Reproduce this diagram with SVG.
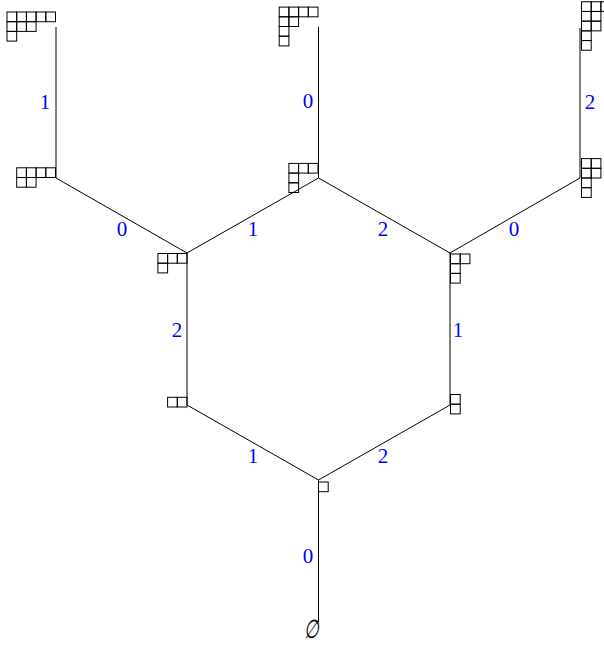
<svg xmlns="http://www.w3.org/2000/svg" xmlns:xlink="http://www.w3.org/1999/xlink" width="604" height="645" viewBox="0 0 604 645">
<style>
.e{stroke:#000;stroke-width:1;fill:none}
.b{stroke:#000;stroke-width:1;fill:none}
.l{font-family:"Liberation Serif","DejaVu Serif",serif;font-size:21px;fill:#0000ff;text-anchor:middle}
.n{font-family:"DejaVu Serif","Liberation Serif",serif;font-size:26px;font-style:italic;fill:#000;text-anchor:middle}
</style>
<defs>
<rect id="c" class="b" width="9.7" height="9.7"/>
</defs>
<g id="connectors">
<path class="e" d="M56 27V178L187 253L318.5 178V27M318.5 178L450 253L580 178V28M187 253V405L318.5 480L450 405V253M318.5 480V622"/>
</g>
<g id="labels">
<text class="l" x="45" y="109">1</text>
<text class="l" x="308" y="108">0</text>
<text class="l" x="590" y="109">2</text>
<text class="l" x="122" y="236">0</text>
<text class="l" x="253" y="236">1</text>
<text class="l" x="383" y="236">2</text>
<text class="l" x="514" y="236">0</text>
<text class="l" x="177" y="337">2</text>
<text class="l" x="458" y="337">1</text>
<text class="l" x="253" y="463">1</text>
<text class="l" x="383" y="463">2</text>
<text class="l" x="308" y="563">0</text>
</g>
<g id="n531">
<use xlink:href="#c" x="7" y="12"/><use xlink:href="#c" x="16.7" y="12"/><use xlink:href="#c" x="26.4" y="12"/><use xlink:href="#c" x="36.1" y="12"/><use xlink:href="#c" x="45.8" y="12"/>
<use xlink:href="#c" x="7" y="21.7"/><use xlink:href="#c" x="16.7" y="21.7"/><use xlink:href="#c" x="26.4" y="21.7"/>
<use xlink:href="#c" x="7" y="31.4"/>
</g>
<g id="n4211">
<use xlink:href="#c" x="279.2" y="7.1"/><use xlink:href="#c" x="288.9" y="7.1"/><use xlink:href="#c" x="298.6" y="7.1"/><use xlink:href="#c" x="308.3" y="7.1"/>
<use xlink:href="#c" x="279.2" y="16.8"/><use xlink:href="#c" x="288.9" y="16.8"/>
<use xlink:href="#c" x="279.2" y="26.5"/>
<use xlink:href="#c" x="279.2" y="36.2"/>
</g>
<g id="n32211">
<use xlink:href="#c" x="581.5" y="1.75"/><use xlink:href="#c" x="591.2" y="1.75"/><use xlink:href="#c" x="600.9" y="1.75"/>
<use xlink:href="#c" x="581.5" y="11.45"/><use xlink:href="#c" x="591.2" y="11.45"/>
<use xlink:href="#c" x="581.5" y="21.15"/><use xlink:href="#c" x="591.2" y="21.15"/>
<use xlink:href="#c" x="581.5" y="30.85"/>
<use xlink:href="#c" x="581.5" y="40.55"/>
</g>
<g id="n42">
<use xlink:href="#c" x="16.7" y="167.8"/><use xlink:href="#c" x="26.4" y="167.8"/><use xlink:href="#c" x="36.1" y="167.8"/><use xlink:href="#c" x="45.8" y="167.8"/>
<use xlink:href="#c" x="16.7" y="177.5"/><use xlink:href="#c" x="26.4" y="177.5"/>
</g>
<g id="n311">
<use xlink:href="#c" x="288.9" y="163.4"/><use xlink:href="#c" x="298.6" y="163.4"/><use xlink:href="#c" x="308.3" y="163.4"/>
<use xlink:href="#c" x="288.9" y="173.1"/>
<use xlink:href="#c" x="288.9" y="182.8"/>
</g>
<g id="n2211">
<use xlink:href="#c" x="581.5" y="158.6"/><use xlink:href="#c" x="591.2" y="158.6"/>
<use xlink:href="#c" x="581.5" y="168.3"/><use xlink:href="#c" x="591.2" y="168.3"/>
<use xlink:href="#c" x="581.5" y="178"/>
<use xlink:href="#c" x="581.5" y="187.7"/>
</g>
<g id="n31">
<use xlink:href="#c" x="157.9" y="253.5"/><use xlink:href="#c" x="167.6" y="253.5"/><use xlink:href="#c" x="177.3" y="253.5"/>
<use xlink:href="#c" x="157.9" y="263.2"/>
</g>
<g id="n211">
<use xlink:href="#c" x="450.5" y="254"/><use xlink:href="#c" x="460.2" y="254"/>
<use xlink:href="#c" x="450.5" y="263.7"/>
<use xlink:href="#c" x="450.5" y="273.4"/>
</g>
<g id="n2">
<use xlink:href="#c" x="167.6" y="397.3"/><use xlink:href="#c" x="177.3" y="397.3"/>
</g>
<g id="n11">
<use xlink:href="#c" x="450.5" y="394.5"/>
<use xlink:href="#c" x="450.5" y="404.2"/>
</g>
<g id="n1">
<use xlink:href="#c" x="318.5" y="482"/>
</g>
<g id="nempty">
<text class="n" transform="translate(311 638) scale(0.65 1)">∅</text>
</g>
</svg>
